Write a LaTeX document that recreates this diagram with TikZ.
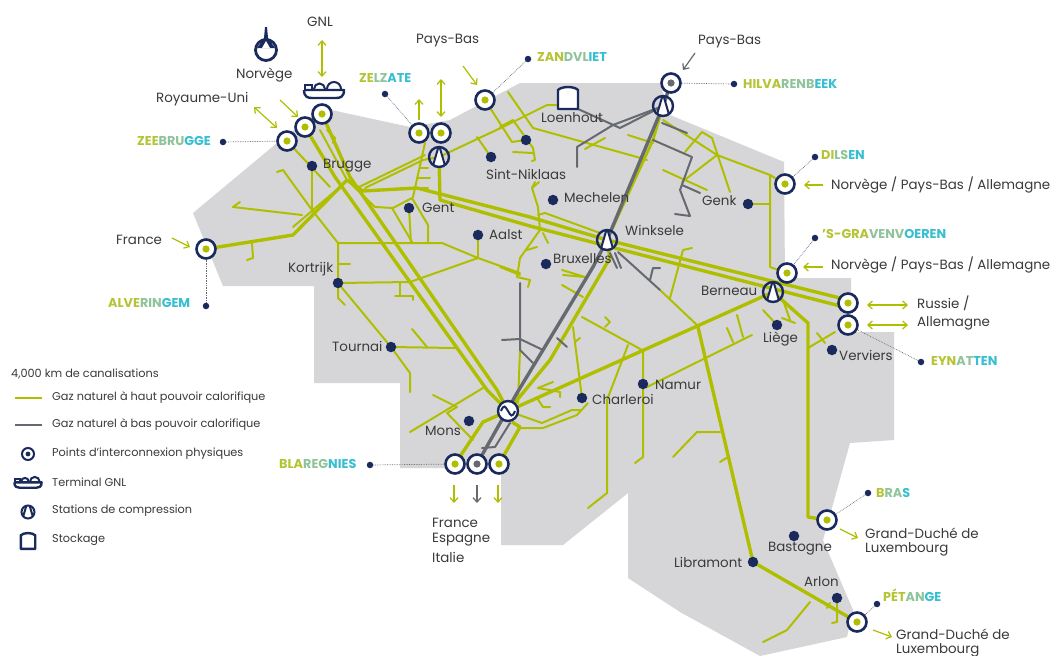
\documentclass[tikz,border=0pt]{standalone}
\usepackage{fontspec}
\setmainfont{Poppins}
\usetikzlibrary{arrows.meta}
\pgfdeclarelayer{mapbg}
\pgfdeclarelayer{pipes}
\pgfsetlayers{mapbg,pipes,main}
\definecolor{hicol}{HTML}{AFBF00}
\definecolor{locol}{HTML}{666A70}
\definecolor{navy}{HTML}{1A2A5C}
\definecolor{mapgray}{HTML}{D6D6D8}
\definecolor{txt}{HTML}{3A3A3A}
\definecolor{gA}{HTML}{B4C435}
\definecolor{gB}{HTML}{8FC49A}
\definecolor{gC}{HTML}{35BFD0}
\newcommand{\grad}[3]{\textcolor{gA}{#1}\textcolor{gB}{#2}\textcolor{gC}{#3}}
\tikzset{
  hi/.style={draw=hicol,line width=2pt,line join=round,line cap=round},
  hik/.style={draw=hicol,line width=3.4pt,line join=round},
  lo/.style={draw=locol,line width=2pt,line join=round,line cap=round},
  lok/.style={draw=locol,line width=3.4pt,line join=round},
  lab/.style={anchor=west,inner sep=0pt,text=txt,font=\fontsize{13.4}{15}\selectfont},
  leg/.style={anchor=west,inner sep=0pt,text=txt,font=\fontsize{11.3}{13}\selectfont},
  site/.style={anchor=west,inner sep=0pt,font=\fontsize{12.8}{15}\selectfont\bfseries},
  ipt/.style={circle,draw=navy,line width=2.6pt,fill=white,minimum size=19pt,inner sep=0pt,
    path picture={\fill[#1] (path picture bounding box.center) circle (3.6pt);}},
  ipt/.default=hicol,
  iptS/.style={circle,draw=navy,line width=2pt,fill=white,minimum size=12pt,inner sep=0pt,
    path picture={\fill[navy] (path picture bounding box.center) circle (2.4pt);}},
  comp/.style={circle,draw=navy,line width=2.4pt,minimum size=#1,inner sep=0pt,
    path picture={\begin{scope}[shift={(path picture bounding box.center)}]
      \fill[white] (0,-12) -- (-7,12) -- (7,12) -- cycle;
      \draw[navy,line width=2pt] (-7,12) -- (0,-12) -- (7,12);
      \end{scope}}},
  comp/.default=20pt,
  cdot/.style={circle,fill=navy,minimum size=10.5pt,inner sep=0pt},
  ldot/.style={circle,fill=navy,minimum size=6.5pt,inner sep=0pt},
  leader/.style={draw=locol,line width=.7pt,densely dotted},
  go/.style={draw=hicol,line width=1.2pt,-{Straight Barb[length=4.5pt,width=8pt]}},
  gog/.style={draw=locol,line width=1.2pt,-{Straight Barb[length=4.5pt,width=8pt]}},
  both/.style={draw=hicol,line width=1.2pt,{Straight Barb[length=4.5pt,width=8pt]}-{Straight Barb[length=4.5pt,width=8pt]}},
}
\newcommand{\shipicon}[3]{% x y scale
  \begin{scope}[shift={(#1,#2)},scale=#3]
    \draw[navy,line width=2.4pt,line join=round] (-20,-1) -- (20,-1) .. controls (20,6) and (16,7) .. (12,7) -- (-12,7) .. controls (-16,7) and (-20,6) .. (-20,-1);
    \draw[navy,line width=2pt] (-19,-2) -- (-19,-6) -- (-12,-6) -- (-12,-2);
    \draw[navy,line width=2pt] (-10,-2) arc (180:360:5.5);
    \draw[navy,line width=2pt] (3,-2) arc (180:360:7);
  \end{scope}}
\newcommand{\tankicon}[3]{%
  \begin{scope}[shift={(#1,#2)},scale=#3]
    \draw[navy,line width=2.4pt,fill=white,line join=round] (-10,-8) .. controls (-6,-12) and (6,-12) .. (10,-8) -- (10,11) -- (-10,11) -- cycle;
  \end{scope}}
\begin{document}
\begin{tikzpicture}[x=1pt,y=-1pt]
\useasboundingbox (0,0) rectangle (1050,656);
% ---------- interconnection points
\node[ipt] (zee1) at (287,141) {};
\node[ipt] (zee2) at (305,127) {};
\node[ipt] (zee3) at (322,114) {};
\node[ipt] (zel1) at (419,133) {};
\node[ipt] (zel2) at (441,133) {};
\node[ipt] (zan) at (485,100) {};
\node[ipt=locol] (hil) at (671,83) {};
\node[ipt] (dil) at (785,184) {};
\node[ipt] (gra) at (787,273) {};
\node[ipt] (eyn1) at (848,303) {};
\node[ipt] (eyn2) at (848,325) {};
\node[ipt] (alv) at (206,249) {};
\node[ipt] (bla1) at (455,464) {};
\node[ipt=locol] (bla2) at (477,464) {};
\node[ipt] (bla3) at (499,464) {};
\node[ipt] (bra) at (827,520) {};
\node[ipt] (pet) at (857,622) {};
% ---------- compression stations and blending station
\node[comp] (czel) at (439,157) {};
\node[comp] (chil) at (663,106) {};
\node[comp] (cwin) at (607,240) {};
\node[comp] (cber) at (773,292) {};
\node[circle,draw=navy,line width=2.4pt,fill=white,minimum size=20pt,inner sep=0pt] (cen) at (508,411) {};
\draw[navy,line width=2pt] ([xshift=-7pt]cen.center) .. controls +(3,-7) and +(-3,-5) .. ([xshift=0pt]cen.center) .. controls +(3,5) and +(-3,7) .. ([xshift=7pt]cen.center);
% ---------- cities
\foreach \n/\p in {brugge/{312,166},gent/{409,208},aalst/{478,235},sint/{491,157},dotx/{526,140},
  kort/{338,283},tour/{391,347},mons/{469,421},charl/{582,398},namur/{643,384},mech/{553,200},
  brux/{546,264},genk/{748,204},liege/{777,325},verv/{832,350},bast/{794,536},libr/{753,562},arlon/{837,598}}
  {\node[cdot] (\n) at (\p) {};}
% ---------- LNG, platform, storage
\shipicon{324}{91}{1}
\tankicon{568}{98}{1}
\draw[navy,line width=2.8pt] (266,50) circle (10.5);
\fill[navy] (265,27) -- (267,27) -- (268,38) -- (275,48) -- (257,48) -- (264,38) -- cycle;
\fill[white] (266,41) -- (262,48) -- (270,48) -- cycle;
% ---------- leaders
\foreach \n/\p/\t in {lzee/{223,142}/zee1,lzel/{385,94}/zel1,lzan/{528,59}/zan,lhil/{734,84}/hil,
  ldil/{815,157}/dil,lgra/{815,238}/gra,leyn/{921,362}/eyn2,lalv/{206,306}/alv,lbla/{370,465}/bla1,
  lbra/{868,493}/bra,lpet/{877,604}/pet}
  {\node[ldot] (\n) at (\p) {}; \draw[leader] (\n) -- (\t);}
% ---------- map and pipes, behind
\begin{pgfonlayer}{mapbg}
\fill[white] (0,0) rectangle (1050,656);
\fill[mapgray] (322,108) -- (410,127) -- (450,120) -- (520,83) -- (660,83) -- (670,115) -- (784,162) -- (785,278)
 -- (851,278) -- (851,332) -- (894,332) -- (894,440) -- (850,443) -- (823,540) -- (853,610) -- (847,637) -- (760,656)
 -- (680,612) -- (628,578) -- (628,493) -- (563,545) -- (501,545) -- (501,468) -- (400,468) -- (400,383)
 -- (314,383) -- (314,286) -- (223,286) -- (193,213) -- (277,143) -- cycle;
\end{pgfonlayer}
\begin{pgfonlayer}{pipes}
% --- high calorific trunks
\draw[hik] (zee2.center) -- (335,177) -- (487,390) -- (cen.center);
\draw[hik] (zee3.center) -- (350,177) -- (497,390) -- (cen.center);
\draw[hi] (zee1.center) -- (330,187);
\draw[hi] (327,130) -- (335,138) -- (333,143);
\draw[hi] (320,130) -- (347,180) -- (375,207) -- (393,208);
\draw[hik] (alv.center) -- (293,235) -- (347,180) -- (363,191) -- (417,188) -- (530,217) -- (cwin.center) -- (848,300);
\draw[hik] (czel.center) -- (440,200) -- (530,226) -- (607,246) -- (848,308);
\draw[hi] (365,188) -- (423,160) -- (czel.center);
\draw[hi] (357,188) -- (425,155);
\draw[hi] (293,227) -- (340,187);
\draw[hi] (538,215) -- (545,213) -- (600,233);
\draw[hik] (cen.center) -- (cber.center);
\draw[hi] (647,387) -- (752,335);
\draw[hik] (cen.center) -- (550,360) -- (610,258) -- (cwin.center);
\draw[hi,line width=2.8pt] (cwin.center) -- (653,140) -- (chil.center);
\draw[hik] (bla1.center) -- (483,422) -- (cen.center);
\draw[hik] (bla3.center) -- (520,427) -- (512,422);
\draw[hi] (cen.center) -- (542,423) -- (572,410) -- (580,410);
\draw[hi] (520,428) -- (543,428) -- (577,415) -- (588,403);
\draw[hik] (698,327) -- (libr.center) -- (pet.center);
\draw[hik] (cber.center) -- (808,323) -- (808,517) -- (bra.center);
% --- high calorific branches
\draw[hi] (410,432) -- (483,388);
\draw[hi] (433,395) -- (457,407) -- (447,413) -- (473,440);
\draw[hi] (tour.center) -- (455,348);
\draw[hi] (412,329) -- (427,347);
\draw[hi] (kort.center) -- (tour.center) -- (410,373) -- (410,392);
\draw[hi] (kort.center) -- (338,243) -- (442,243) -- (478,258) -- (520,273);
\draw[hi] (338,243) -- (312,210) -- (283,170) -- (277,172);
\draw[hi] (brugge.center) -- (312,210);
\draw[hi] (338,264) -- (350,264);
\draw[hi] (kort.center) -- (410,282) -- (478,258);
\draw[hi] (400,282) -- (400,296) -- (413,296) -- (413,300);
\draw[hi] (395,296) -- (400,296);
\draw[hi] (kort.center) -- (338,298) -- (345,305);
\draw[hi] (aalst.center) -- (478,258);
\draw[hi] (233,207) -- (302,215);
\draw[hi] (233,207) -- (240,202);
\draw[hi] (252,243) -- (253,258) -- (247,260);
\draw[hi] (gent.center) -- (411,243);
\draw[hi] (392,208) -- (412,242);
\draw[hi] (393,208) -- (412,198) -- (428,225) -- (428,243);
\draw[hi] (425,143) -- (413,197);
\draw[hi] (420,168) -- (428,168);
\draw[hi] (418,178) -- (430,178);
\draw[hi] (418,188) -- (428,188);
\draw[hi] (zan.center) -- (512,142) -- (dotx.center);
\draw[hi] (czel.center) -- (507,125) -- (547,105) -- (558,105);
\draw[hi] (508,92) -- (533,128) -- (637,157) -- (647,160);
\draw[hi] (500,127) -- (513,120) -- (533,148) -- (535,160) -- (532,161);
\draw[hi] (513,152) -- (533,153);
\draw[hi] (477,137) -- (sint.center);
\draw[hi] (628,135) -- (653,143);
\draw[hi] (585,149) -- (605,138);
\draw[hi] (663,120) -- (717,155) -- (770,175) -- (770,267) -- (gra.center);
\draw[hi] (dil.center) -- (770,175);
\draw[hi] (685,152) -- (702,132) -- (712,138) -- (730,192);
\draw[hi] (682,182) -- (717,155);
\draw[hi] (663,170) -- (707,190);
\draw[hi] (genk.center) -- (770,204);
\draw[hi] (692,248) -- (683,250) -- (670,298);
\draw[hi] (660,290) -- (697,325);
\draw[hi] (535,182) -- (532,188) -- (538,207) -- (540,230) -- (520,258) -- (517,277) -- (530,280) -- (528,287);
\draw[hi] (532,188) -- (539,182);
\draw[hi] (543,233) -- (548,243);
\draw[hi] (527,250) -- (537,247);
\draw[hi] (500,267) -- (520,275);
\draw[hi] (562,270) -- (585,277);
\draw[hi] (563,275) -- (585,277);
\draw[hi] (562,285) -- (583,297);
\draw[hi] (582,317) -- (642,350);
\draw[hi] (605,317) -- (610,322) -- (605,327);
\draw[hi] (573,327) -- (charl.center);
\draw[hi] (575,342) -- (580,338);
\draw[hi] (628,345) -- (607,400) -- (607,493) -- (588,508);
\draw[hi] (643,350) -- (643,457) -- (635,463);
\draw[hi] (538,388) -- (553,382);
\draw[hi] (538,388) -- (560,392) -- (560,397);
\draw[hi] (537,398) -- (543,407) -- (550,407);
\draw[hi] (520,350) -- (518,403);
\draw[hi] (673,457) -- (697,432) -- (720,432);
\draw[hi] (720,462) -- (728,457);
\draw[hi] (810,602) -- (787,630) -- (763,642);
\draw[hi] (arlon.center) -- (837,622) -- (832,623);
\draw[hi] (827,608) -- (830,603);
\draw[hi] (808,348) -- (835,332);
\draw[hi] (817,333) -- (825,343);
\draw[hi] (783,300) -- (790,320);
\draw[hi] (782,318) -- (795,323);
\draw[hi] (763,310) -- (liege.center);
\draw[hi] (727,328) -- (733,342);
\draw[hi] (737,315) -- (743,337);
% --- low calorific
\draw[lok] (bla2.center) -- (517,393) -- (575,297) -- (593,267) -- (cwin.center) -- (chil.center);
\draw[lok] (hil.center) -- (chil.center);
\draw[lo] (482,448) -- (495,447) -- (510,423);
\draw[lo] (chil.center) -- (613,125) -- (577,147) -- (577,167);
\draw[lo] (chil.center) -- (620,128) -- (578,109);
\draw[lo] (662,123) -- (687,133);
\draw[lo] (653,140) -- (692,157) -- (680,190) -- (690,216) -- (675,214);
\draw[lo] (682,185) -- (700,193);
\draw[lo] (610,253) -- (617,268);
\draw[lo] (615,253) -- (621,268);
\draw[lo] (618,252) -- (660,290);
\draw[lo] (650,280) -- (653,268) -- (660,268);
\draw[lo] (520,283) -- (520,350) -- (533,363);
\draw[lo] (502,340) -- (520,339) -- (543,350);
\draw[lo] (557,338) -- (567,347);
\end{pgfonlayer}
% ---------- arrows
\foreach \n/\a/\b/\s in {a1/{172,238}/{190,247}/go,a2/{280,100}/{298,117}/go,a3/{419,120}/{419,99}/go,
 a4/{463,66}/{477,85}/go,a5/{695,53}/{683,70}/gog,a6/{823,185}/{804,185}/go,a7/{823,267}/{803,267}/go,
 a8/{454,485}/{454,503}/go,a9/{477,485}/{477,503}/gog,a10/{498,485}/{498,503}/go,a11/{840,529}/{858,538}/go,
 a12/{873,630}/{892,637}/go,b1/{254,107}/{277,128}/both,b2/{322,40}/{322,77}/both,b3/{441,79}/{441,117}/both,
 b4/{867,305}/{908,305}/both,b5/{867,325}/{908,325}/both}
 {\coordinate (\n s) at (\a); \coordinate (\n e) at (\b); \draw[\s] (\n s) -- (\n e);}
% ---------- place labels
\foreach \n/\x/\y/\t in {tGNL/307/22/GNL,tNor/236/75/Norvège,tRoy/156/99/Royaume-Uni,tPB1/416/41/Pays-Bas,
 tPB2/698/42/Pays-Bas,tLoe/541/118/Loenhout,tBru/323/166/Brugge,tSin/486/174/Sint-Niklaas,tMec/564/198/Mechelen,
 tGen/422/208/Gent,tAal/489/235/Aalst,tWin/625/230/Winksele,tGnk/702/201/Genk,tBrx/553/259/Bruxelles,
 tFra/116/240/France,tKor/288/269/Kortrijk,tTou/332/346/Tournai,tMon/425/431/Mons,tCha/592/399/Charleroi,
 tNam/655/385/Namur,tBer/701/291/Berneau,tLie/763/339/Liège,tVer/839/355/Verviers,tLib/674/562/Libramont,
 tBas/768/549/Bastogne,tArl/804/582/Arlon,tNp1/831/185/{Norvège / Pays-Bas / Allemagne},
 tNp2/831/265/{Norvège / Pays-Bas / Allemagne},tRus/917/303/{Russie /},tAll/917/323/Allemagne,
 tFr/432/523/France,tEs/432/540/Espagne,tIt/432/557/Italie,tGd1/865/533/{Grand-Duché de},tLu1/865/549/Luxembourg,
 tGd2/896/634/{Grand-Duché de},tLu2/896/650/Luxembourg}
 {\node[lab] (\n) at (\x,\y) {\t};}
% ---------- site names
\node[site] (sZee) at (137,141) {\grad{ZEE}{BRU}{GGE}};
\node[site] (sZel) at (359,78) {\grad{ZE}{LZ}{ATE}};
\node[site] (sZan) at (537,57) {\grad{ZAN}{DVL}{IET}};
\node[site] (sHil) at (743,84) {\grad{HILVA}{RENB}{EEK}};
\node[site] (sDil) at (821,155) {\grad{DI}{LS}{EN}};
\node[site] (sGra) at (822,234) {\grad{'S-GRA}{VENV}{OEREN}};
\node[site] (sEyn) at (931,361) {\grad{EYN}{AT}{TEN}};
\node[site] (sAlv) at (108,303) {\grad{ALVE}{RIN}{GEM}};
\node[site] (sBla) at (279,464) {\grad{BLA}{REG}{NIES}};
\node[site] (sBra) at (876,493) {\grad{B}{RA}{S}};
\node[site] (sPet) at (883,595) {\grad{PÉT}{AN}{GE}};
% ---------- legend
\node[leg] (l0) at (11,374) {4,000 km de canalisations};
\node[leg] (l1) at (52,398) {Gaz naturel à haut pouvoir calorifique};
\node[leg] (l2) at (52,425) {Gaz naturel à bas pouvoir calorifique};
\node[leg] (l3) at (52,454) {Points d'interconnexion physiques};
\node[leg] (l4) at (52,482) {Terminal GNL};
\node[leg] (l5) at (52,511) {Stations de compression};
\node[leg] (l6) at (52,540) {Stockage};
\coordinate (k1a) at (15,398); \coordinate (k1b) at (42,398);
\coordinate (k2a) at (15,425); \coordinate (k2b) at (42,425);
\draw[hicol,line width=2pt] (k1a) -- (k1b);
\draw[locol,line width=2pt] (k2a) -- (k2b);
\node[iptS] (kP) at (28,454) {};
\shipicon{28}{483}{.68}
\node[comp=13pt,line width=2pt] (kC) at (28,512) {};
\tankicon{28}{541}{.72}
\end{tikzpicture}
\end{document}
